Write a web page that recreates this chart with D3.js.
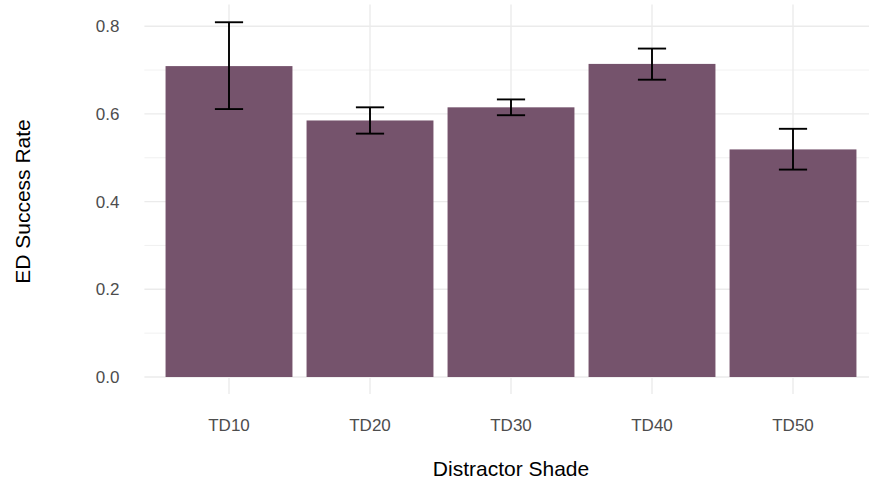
<!DOCTYPE html>
<html>
<head>
<meta charset="utf-8">
<script src="https://cdn.jsdelivr.net/npm/d3@7"></script>
<style>
  html, body { margin: 0; padding: 0; background: #fff; }
  svg { display: block; }
  text { font-family: "Liberation Sans", Arial, sans-serif; }
</style>
</head>
<body>
<svg id="chart" width="869" height="481"></svg>
<script>
const categories = ["TD10", "TD20", "TD30", "TD40", "TD50"];
const successRate = [0.709, 0.585, 0.615, 0.714, 0.519];
const errLower = [0.611, 0.555, 0.597, 0.678, 0.473];
const errUpper = [0.809, 0.615, 0.633, 0.749, 0.566];
const yTicks = [0.0, 0.2, 0.4, 0.6, 0.8];
const yMinorTicks = [0.1, 0.3, 0.5, 0.7];
const xTitle = "Distractor Shade";
const yTitle = "ED Success Rate";

const data = categories.map((c, i) => ({ cat: c, value: successRate[i], lo: errLower[i], hi: errUpper[i] }));

const svg = d3.select("#chart");
const step = 141;
const left = 144.4;
const x = d3.scaleBand()
  .domain(categories)
  .range([left + 0.6 * step - step / 2, left + 0.6 * step - step / 2 + step * categories.length])
  .paddingInner(0).paddingOuter(0);
const xc = c => x(c) + x.bandwidth() / 2;
const panelLeft = left;
const panelRight = xc(categories[categories.length - 1]) + 0.6 * step;

const y = d3.scaleLinear().domain([0, 0.8]).range([377, 26.2]);
const panelTop = y(0.8495);
const panelBottom = y(0);

const grid = svg.append("g");
grid.selectAll("line.minor").data(yMinorTicks).enter().append("line")
  .attr("x1", panelLeft).attr("x2", panelRight)
  .attr("y1", d => y(d)).attr("y2", d => y(d))
  .attr("stroke", "#ededed").attr("stroke-width", 0.8);
grid.selectAll("line.major").data(yTicks).enter().append("line")
  .attr("x1", panelLeft).attr("x2", panelRight)
  .attr("y1", d => y(d)).attr("y2", d => y(d))
  .attr("stroke", "#ebebeb").attr("stroke-width", 1.4);
grid.selectAll("line.vert").data(categories).enter().append("line")
  .attr("x1", d => xc(d)).attr("x2", d => xc(d))
  .attr("y1", panelTop).attr("y2", panelBottom)
  .attr("stroke", "#ebebeb").attr("stroke-width", 1.4);

// bars
const barW = 0.9 * step;
svg.append("g").selectAll("rect").data(data).enter().append("rect")
  .attr("x", d => xc(d.cat) - barW / 2)
  .attr("width", barW)
  .attr("y", d => y(d.value))
  .attr("height", d => y(0) - y(d.value))
  .attr("fill", "#75536c");

// error bars
const capW = 0.2 * step;
const eb = svg.append("g").attr("stroke", "#000").attr("stroke-width", 1.9).attr("fill", "none");
data.forEach(d => {
  const cx = xc(d.cat);
  eb.append("line").attr("x1", cx).attr("x2", cx).attr("y1", y(d.hi)).attr("y2", y(d.lo));
  eb.append("line").attr("x1", cx - capW / 2).attr("x2", cx + capW / 2).attr("y1", y(d.hi)).attr("y2", y(d.hi));
  eb.append("line").attr("x1", cx - capW / 2).attr("x2", cx + capW / 2).attr("y1", y(d.lo)).attr("y2", y(d.lo));
});

// x axis
const xAxis = d3.axisBottom(x).tickSize(16).tickPadding(0);
const gx = svg.append("g").attr("transform", `translate(0,${panelBottom + 1})`).call(xAxis);
gx.select(".domain").remove();
gx.selectAll(".tick line").attr("stroke", "#ebebeb").attr("stroke-width", 1.4);
gx.selectAll(".tick text").attr("fill", "#4d4d4d").style("font-size", "17px")
  .attr("y", 53).attr("dy", null)
  .style("font-family", "'Liberation Sans', Arial, sans-serif");

// y axis
const yAxis = d3.axisLeft(y).tickValues(yTicks).tickFormat(d3.format(".1f")).tickSize(0).tickPadding(25);
const gy = svg.append("g").attr("transform", `translate(${panelLeft},0)`).call(yAxis);
gy.select(".domain").remove();
gy.selectAll(".tick text").attr("fill", "#4d4d4d").style("font-size", "17px")
  .style("font-family", "'Liberation Sans', Arial, sans-serif");

// titles
svg.append("text").attr("x", 511).attr("y", 476).attr("text-anchor", "middle")
  .attr("fill", "#000").style("font-size", "21px").text(xTitle);
svg.append("text").attr("transform", "translate(30,201.5) rotate(-90)").attr("text-anchor", "middle")
  .attr("fill", "#000").style("font-size", "21px").text(yTitle);
</script>
</body>
</html>
